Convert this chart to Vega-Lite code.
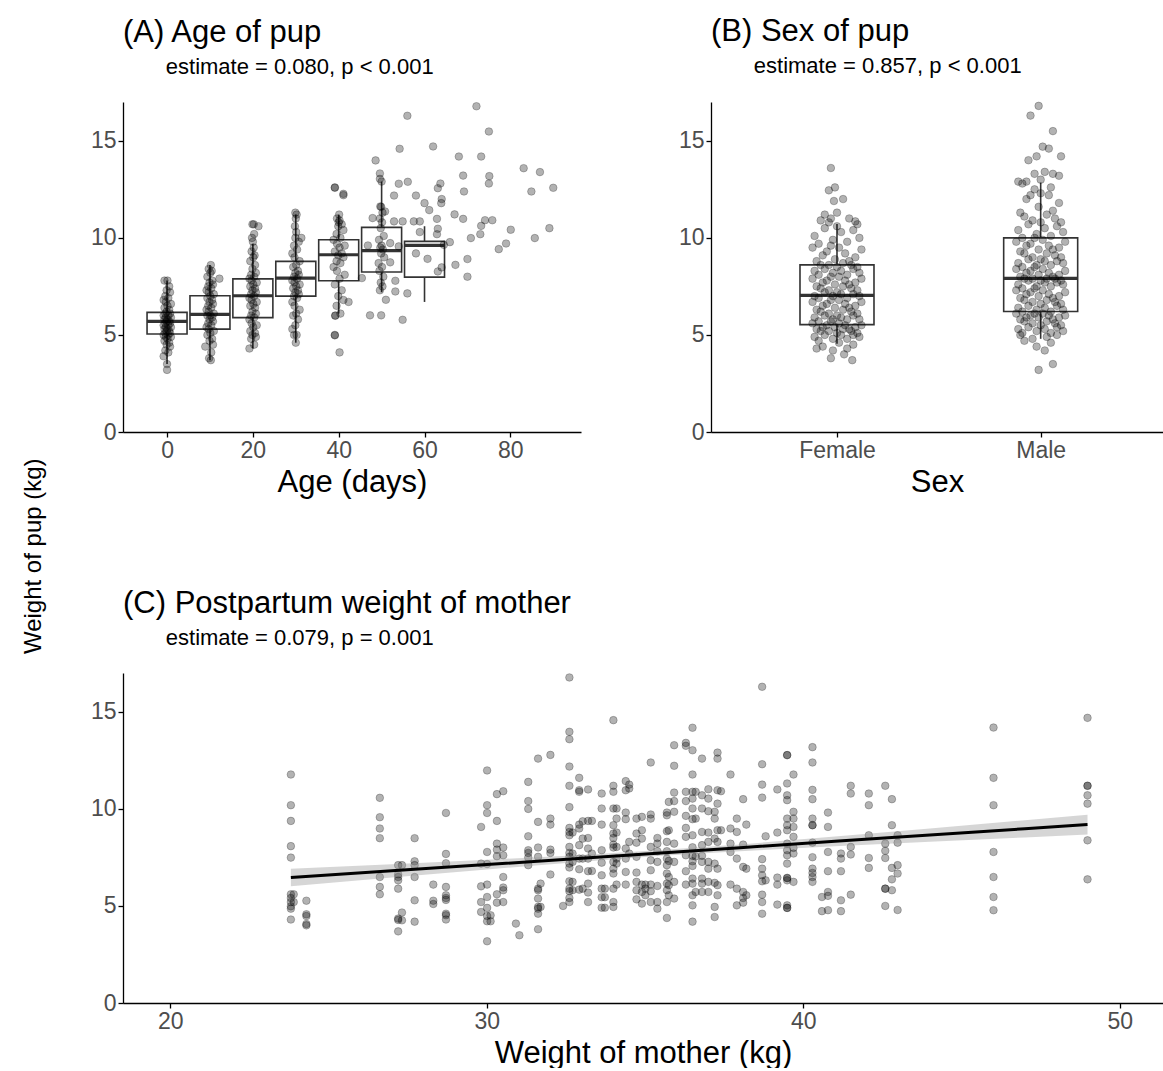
{
"$schema": "https://vega.github.io/schema/vega-lite/v6.json",
"background": "white",
"padding": {"left": 22, "top": 16, "right": 0, "bottom": 0},
"title": {"text": "Weight of pup (kg)", "orient": "left", "anchor": "middle", "frame": "bounds", "fontSize": 24, "offset": 44, "dx": -14},
"config": {
  "font": "Liberation Sans",
  "view": {"stroke": null},
  "axis": {"grid": false, "domainColor": "black", "domainWidth": 1.3, "tickColor": "black", "tickWidth": 1.3, "tickSize": 5, "labelColor": "#4d4d4d", "labelFontSize": 23, "labelPadding": 2, "titleColor": "black", "titleFontSize": 31, "titleFontWeight": "normal", "titlePadding": 5, "labelFlush": false, "labelOverlap": false},
  "title": {"anchor": "start", "frame": "group", "fontSize": 31, "fontWeight": "normal", "color": "black", "subtitleFontSize": 22, "subtitleColor": "black", "offset": 22, "subtitlePadding": 8}
},
"datasets": {
  "boxA": [
    {"a":0,"lo":3.5,"q1":5.05,"md":5.7,"q3":6.16,"hi":7.8},
    {"a":10,"lo":3.7,"q1":5.3,"md":6.06,"q3":7.02,"hi":8.6},
    {"a":20,"lo":4.3,"q1":5.89,"md":7.02,"q3":7.89,"hi":9.7},
    {"a":30,"lo":4.6,"q1":7.0,"md":7.93,"q3":8.79,"hi":11.2},
    {"a":40,"lo":6.1,"q1":7.79,"md":9.13,"q3":9.9,"hi":11.2},
    {"a":50,"lo":7.2,"q1":8.24,"md":9.34,"q3":10.54,"hi":12.9},
    {"a":60,"lo":6.7,"q1":7.98,"md":9.61,"q3":9.82,"hi":10.6}
  ],
  "ptsA": [
    {"a":0,"w":3.2},{"a":0,"w":3.5},{"a":-0.8,"w":3.9},{"a":0.3,"w":4.1},{"a":-0.4,"w":4.2},{"a":0.7,"w":4.4},{"a":-0.1,"w":4.5},{"a":0.5,"w":4.6},{"a":-0.6,"w":4.7},{"a":0.1,"w":4.8},
    {"a":0.9,"w":4.9},{"a":-0.3,"w":4.9},{"a":-0.8,"w":5.0},{"a":0.3,"w":5.0},{"a":-0.4,"w":5.1},{"a":0.7,"w":5.1},{"a":-0.1,"w":5.2},{"a":0.5,"w":5.2},{"a":-0.6,"w":5.3},{"a":0.1,"w":5.3},
    {"a":0.9,"w":5.4},{"a":-0.3,"w":5.4},{"a":-0.8,"w":5.5},{"a":0.3,"w":5.5},{"a":-0.4,"w":5.6},{"a":0.7,"w":5.6},{"a":-0.1,"w":5.7},{"a":0.5,"w":5.7},{"a":-0.6,"w":5.8},{"a":0.1,"w":5.8},
    {"a":0.9,"w":5.9},{"a":-0.3,"w":5.9},{"a":-0.8,"w":6.0},{"a":0.3,"w":6.0},{"a":-0.4,"w":6.1},{"a":0.7,"w":6.1},{"a":-0.1,"w":6.2},{"a":0.5,"w":6.3},{"a":-0.6,"w":6.4},{"a":0.1,"w":6.5},
    {"a":0.9,"w":6.6},{"a":-0.3,"w":6.7},{"a":-0.8,"w":6.8},{"a":0.3,"w":6.9},{"a":-0.4,"w":7.0},{"a":0.7,"w":7.2},{"a":-0.1,"w":7.3},{"a":0.5,"w":7.5},{"a":-0.6,"w":7.8},{"a":0.1,"w":7.8},
    {"a":10.2,"w":3.7},{"a":9.8,"w":3.8},{"a":10.3,"w":4.1},{"a":10.7,"w":4.5},{"a":9.9,"w":4.7},{"a":10.5,"w":4.8},{"a":9.4,"w":5.0},{"a":10.1,"w":5.1},{"a":10.9,"w":5.2},{"a":9.7,"w":5.3},
    {"a":9.2,"w":5.4},{"a":10.3,"w":5.5},{"a":9.6,"w":5.6},{"a":10.7,"w":5.7},{"a":9.9,"w":5.8},{"a":10.5,"w":5.9},{"a":9.4,"w":6.0},{"a":10.1,"w":6.0},{"a":10.9,"w":6.1},{"a":9.7,"w":6.2},
    {"a":9.2,"w":6.3},{"a":10.3,"w":6.4},{"a":9.6,"w":6.5},{"a":10.7,"w":6.6},{"a":9.9,"w":6.7},{"a":10.5,"w":6.8},{"a":9.4,"w":6.9},{"a":10.1,"w":7.0},{"a":10.9,"w":7.1},{"a":9.7,"w":7.2},
    {"a":9.2,"w":7.3},{"a":10.3,"w":7.4},{"a":9.6,"w":7.5},{"a":10.7,"w":7.6},{"a":9.9,"w":7.7},{"a":10.5,"w":7.8},{"a":9.4,"w":8.0},{"a":10.1,"w":8.2},{"a":10.4,"w":8.3},{"a":9.7,"w":8.4},
    {"a":10.2,"w":8.6},{"a":8.9,"w":4.4},{"a":12.2,"w":7.9},
    {"a":19.2,"w":4.3},{"a":20.3,"w":4.5},{"a":19.6,"w":4.8},{"a":20.7,"w":4.9},{"a":19.9,"w":5.0},{"a":20.5,"w":5.1},{"a":19.4,"w":5.2},{"a":20.1,"w":5.4},{"a":20.9,"w":5.5},{"a":19.7,"w":5.6},
    {"a":19.2,"w":5.8},{"a":20.3,"w":5.9},{"a":19.6,"w":6.0},{"a":20.7,"w":6.1},{"a":19.9,"w":6.2},{"a":20.5,"w":6.4},{"a":19.4,"w":6.5},{"a":20.1,"w":6.6},{"a":20.9,"w":6.7},{"a":19.7,"w":6.8},
    {"a":19.2,"w":6.9},{"a":20.3,"w":7.0},{"a":19.6,"w":7.1},{"a":20.7,"w":7.2},{"a":19.9,"w":7.3},{"a":20.5,"w":7.4},{"a":19.4,"w":7.5},{"a":20.1,"w":7.6},{"a":20.9,"w":7.7},{"a":19.7,"w":7.8},
    {"a":19.2,"w":7.9},{"a":20.3,"w":8.0},{"a":19.6,"w":8.1},{"a":20.7,"w":8.2},{"a":19.9,"w":8.4},{"a":20.5,"w":8.6},{"a":19.4,"w":8.8},{"a":20.1,"w":9.0},{"a":20.4,"w":9.1},{"a":19.7,"w":9.3},
    {"a":20.2,"w":9.5},{"a":20.0,"w":9.8},{"a":19.8,"w":10.0},{"a":20.3,"w":10.2},{"a":19.9,"w":10.7},{"a":20.2,"w":10.7},{"a":21.3,"w":10.6},
    {"a":30.0,"w":4.6},{"a":29.6,"w":5.0},{"a":30.2,"w":5.0},{"a":29.2,"w":5.3},{"a":29.9,"w":5.5},{"a":30.5,"w":5.8},{"a":29.4,"w":6.0},{"a":30.1,"w":6.1},{"a":30.9,"w":6.3},{"a":29.7,"w":6.5},
    {"a":29.2,"w":6.7},{"a":30.3,"w":6.9},{"a":29.6,"w":7.0},{"a":30.7,"w":7.1},{"a":29.9,"w":7.2},{"a":30.5,"w":7.3},{"a":29.4,"w":7.4},{"a":30.1,"w":7.5},{"a":30.9,"w":7.6},{"a":29.7,"w":7.7},
    {"a":29.2,"w":7.8},{"a":30.3,"w":7.9},{"a":29.6,"w":8.0},{"a":30.7,"w":8.1},{"a":29.9,"w":8.2},{"a":30.5,"w":8.3},{"a":29.4,"w":8.5},{"a":30.1,"w":8.6},{"a":30.9,"w":8.8},{"a":29.7,"w":9.0},
    {"a":29.2,"w":9.2},{"a":30.3,"w":9.4},{"a":29.6,"w":9.6},{"a":30.7,"w":9.8},{"a":29.9,"w":10.0},{"a":30.1,"w":10.3},{"a":29.8,"w":10.6},{"a":30.0,"w":11.0},{"a":30.2,"w":11.2},{"a":29.9,"w":11.3},
    {"a":31.3,"w":10.0},
    {"a":40.2,"w":4.1},{"a":39.1,"w":5.0},{"a":39.2,"w":6.0},{"a":40.4,"w":6.1},{"a":39.5,"w":6.5},{"a":41.1,"w":6.8},{"a":39.9,"w":7.0},{"a":40.7,"w":7.3},{"a":39.1,"w":7.6},{"a":40.2,"w":7.9},
    {"a":41.4,"w":8.1},{"a":39.6,"w":8.3},{"a":38.8,"w":8.5},{"a":40.4,"w":8.7},{"a":39.5,"w":8.8},{"a":41.1,"w":9.0},{"a":39.9,"w":9.1},{"a":40.7,"w":9.2},{"a":39.1,"w":9.3},{"a":40.2,"w":9.5},
    {"a":41.4,"w":9.6},{"a":39.6,"w":9.7},{"a":38.8,"w":9.9},{"a":40.4,"w":10.0},{"a":39.5,"w":10.2},{"a":41.1,"w":10.4},{"a":39.9,"w":10.6},{"a":40.7,"w":10.7},{"a":40.0,"w":10.8},{"a":40.2,"w":10.9},
    {"a":39.6,"w":11.0},{"a":40.1,"w":11.2},{"a":41.1,"w":12.2},{"a":39.1,"w":12.6},{"a":42.3,"w":6.7},
    {"a":49.6,"w":7.3},{"a":50.2,"w":7.5},{"a":49.8,"w":7.7},{"a":50.4,"w":8.0},{"a":49.5,"w":8.3},{"a":50.1,"w":8.5},{"a":49.3,"w":8.7},{"a":50.6,"w":9.0},{"a":49.9,"w":9.2},{"a":50.3,"w":9.4},
    {"a":49.7,"w":9.5},{"a":50.0,"w":9.6},{"a":49.4,"w":9.9},{"a":50.5,"w":10.1},{"a":49.8,"w":10.5},{"a":50.1,"w":10.8},{"a":49.6,"w":11.0},{"a":50.2,"w":11.3},{"a":49.9,"w":11.6},{"a":50.0,"w":12.9},
    {"a":56.0,"w":16.29},{"a":72.1,"w":16.78},{"a":75.0,"w":15.48},{"a":54.2,"w":14.59},{"a":62.0,"w":14.71},{"a":48.6,"w":13.99},{"a":68.0,"w":14.19},{"a":73.2,"w":14.19},{"a":49.6,"w":13.32},{"a":49.6,"w":13.04},
    {"a":69.0,"w":13.21},{"a":75.1,"w":13.18},{"a":83.1,"w":13.59},{"a":86.9,"w":13.39},{"a":75.0,"w":12.8},{"a":54.0,"w":12.79},{"a":56.1,"w":12.89},{"a":63.7,"w":12.8},{"a":63.1,"w":12.56},{"a":39.1,"w":12.58},
    {"a":41.1,"w":12.27},{"a":90.0,"w":12.58},{"a":84.9,"w":12.39},{"a":69.2,"w":12.39},{"a":52.9,"w":12.18},{"a":58.0,"w":12.18},{"a":60.0,"w":11.79},{"a":63.9,"w":11.79},{"a":64.0,"w":12.0},{"a":49.7,"w":11.62},
    {"a":50.8,"w":11.36},{"a":61.1,"w":11.43},{"a":67.0,"w":11.21},{"a":69.0,"w":10.98},{"a":62.9,"w":10.98},{"a":74.1,"w":10.91},{"a":75.8,"w":10.91},{"a":54.9,"w":10.85},{"a":57.5,"w":10.85},{"a":58.9,"w":10.85},
    {"a":47.9,"w":11.02},{"a":52.9,"w":10.85},{"a":73.2,"w":10.62},{"a":80.1,"w":10.42},{"a":89.1,"w":10.5},{"a":63.1,"w":10.47},{"a":73.0,"w":10.19},{"a":70.8,"w":9.99},{"a":85.7,"w":9.99},{"a":58.9,"w":10.3},
    {"a":62.9,"w":10.19},{"a":65.9,"w":9.78},{"a":79.0,"w":9.71},{"a":64.5,"w":9.64},{"a":77.3,"w":9.42},{"a":46.8,"w":9.61},{"a":52.0,"w":9.73},{"a":54.0,"w":9.56},{"a":58.0,"w":9.2},{"a":60.7,"w":8.92},
    {"a":70.0,"w":8.91},{"a":64.0,"w":8.48},{"a":67.2,"w":8.61},{"a":45.4,"w":7.93},{"a":63.1,"w":8.27},{"a":70.0,"w":8.0},{"a":52.0,"w":8.74},{"a":53.2,"w":7.79},{"a":53.2,"w":7.24},{"a":56.0,"w":7.14},
    {"a":51.0,"w":6.81},{"a":47.3,"w":6.01},{"a":49.9,"w":6.01},{"a":54.9,"w":5.78},{"a":39.1,"w":4.98},{"a":39.2,"w":5.99}
  ],
  "boxB": [
    {"s":1,"lo":4.55,"q1":5.53,"md":7.04,"q3":8.61,"hi":10.71},
    {"s":2,"lo":4.8,"q1":6.21,"md":7.91,"q3":10.0,"hi":12.85}
  ],
  "ptsB": [
    {"s":1.075,"w":3.7},{"s":0.97,"w":3.8},{"s":1.035,"w":4.0},{"s":0.98,"w":4.2},{"s":0.9,"w":4.3},{"s":1.05,"w":4.3},{"s":0.93,"w":4.4},{"s":1.08,"w":4.5},{"s":1.01,"w":4.6},
    {"s":0.91,"w":4.7},{"s":1.05,"w":4.8},{"s":0.98,"w":4.8},{"s":1.11,"w":4.9},{"s":0.89,"w":4.9},{"s":1.02,"w":5.0},{"s":1.08,"w":5.0},{"s":0.94,"w":5.0},{"s":1.0,"w":5.1},{"s":1.1,"w":5.1},
    {"s":0.96,"w":5.2},{"s":1.07,"w":5.2},{"s":0.92,"w":5.2},{"s":1.03,"w":5.3},{"s":0.9,"w":5.3},{"s":1.06,"w":5.3},{"s":0.99,"w":5.4},{"s":1.09,"w":5.4},{"s":0.93,"w":5.4},{"s":1.04,"w":5.5},
    {"s":0.95,"w":5.5},{"s":1.12,"w":5.5},{"s":0.88,"w":5.6},{"s":1.01,"w":5.6},{"s":0.97,"w":5.7},{"s":0.91,"w":5.7},{"s":1.05,"w":5.8},{"s":0.98,"w":5.8},{"s":1.11,"w":5.8},{"s":0.89,"w":5.9},
    {"s":1.02,"w":5.9},{"s":1.08,"w":6.0},{"s":0.94,"w":6.0},{"s":1.0,"w":6.0},{"s":1.1,"w":6.1},{"s":0.96,"w":6.1},{"s":1.07,"w":6.2},{"s":0.92,"w":6.2},{"s":1.03,"w":6.3},{"s":0.9,"w":6.3},
    {"s":1.06,"w":6.4},{"s":0.99,"w":6.4},{"s":1.09,"w":6.5},{"s":0.93,"w":6.5},{"s":1.04,"w":6.6},{"s":0.95,"w":6.6},{"s":1.12,"w":6.7},{"s":0.88,"w":6.7},{"s":1.01,"w":6.8},{"s":0.97,"w":6.8},
    {"s":0.91,"w":6.9},{"s":1.05,"w":6.9},{"s":0.98,"w":7.0},{"s":1.11,"w":7.0},{"s":0.89,"w":7.0},{"s":1.02,"w":7.1},{"s":1.08,"w":7.1},{"s":0.94,"w":7.2},{"s":1.0,"w":7.2},{"s":1.1,"w":7.3},
    {"s":0.96,"w":7.3},{"s":1.07,"w":7.4},{"s":0.92,"w":7.4},{"s":1.03,"w":7.5},{"s":0.9,"w":7.5},{"s":1.06,"w":7.6},{"s":0.99,"w":7.6},{"s":1.09,"w":7.7},{"s":0.93,"w":7.7},{"s":1.04,"w":7.8},
    {"s":0.95,"w":7.8},{"s":1.12,"w":7.9},{"s":0.88,"w":7.9},{"s":1.01,"w":8.0},{"s":0.97,"w":8.0},{"s":0.91,"w":8.1},{"s":1.05,"w":8.1},{"s":0.98,"w":8.2},{"s":1.11,"w":8.2},{"s":0.89,"w":8.3},
    {"s":1.02,"w":8.3},{"s":1.08,"w":8.4},{"s":0.94,"w":8.4},{"s":1.0,"w":8.5},{"s":1.1,"w":8.5},{"s":0.96,"w":8.6},{"s":1.07,"w":8.6},{"s":0.92,"w":8.6},{"s":1.03,"w":8.7},{"s":0.9,"w":8.8},
    {"s":1.06,"w":8.8},{"s":0.99,"w":8.9},{"s":1.09,"w":9.0},{"s":0.93,"w":9.1},{"s":1.04,"w":9.2},{"s":0.95,"w":9.3},{"s":1.12,"w":9.4},{"s":0.88,"w":9.5},{"s":1.01,"w":9.5},{"s":0.97,"w":9.6},
    {"s":0.91,"w":9.7},{"s":1.05,"w":9.8},{"s":0.98,"w":9.9},{"s":1.11,"w":10.0},{"s":0.89,"w":10.1},{"s":1.02,"w":10.3},{"s":1.08,"w":10.4},{"s":0.94,"w":10.5},{"s":1.0,"w":10.6},{"s":1.1,"w":10.7},
    {"s":0.96,"w":10.8},{"s":1.09,"w":10.85},{"s":0.92,"w":10.9},{"s":1.06,"w":11.0},{"s":0.97,"w":11.0},{"s":0.94,"w":11.2},{"s":1.0,"w":11.3},{"s":0.985,"w":11.9},{"s":1.03,"w":12.0},{"s":0.96,"w":12.45},
    {"s":0.99,"w":12.6},{"s":0.97,"w":13.6},
    {"s":1.99,"w":3.2},{"s":2.06,"w":3.5},{"s":2.02,"w":4.2},{"s":1.98,"w":4.4},{"s":2.05,"w":4.6},{"s":1.92,"w":4.7},{"s":1.96,"w":4.8},{"s":2.03,"w":4.9},{"s":1.9,"w":5.0},{"s":2.08,"w":5.0},
    {"s":1.91,"w":5.1},{"s":2.05,"w":5.1},{"s":1.98,"w":5.2},{"s":2.11,"w":5.2},{"s":1.89,"w":5.3},{"s":2.02,"w":5.3},{"s":2.08,"w":5.4},{"s":1.94,"w":5.4},{"s":2.0,"w":5.5},{"s":2.1,"w":5.5},
    {"s":1.96,"w":5.6},{"s":2.07,"w":5.6},{"s":1.92,"w":5.7},{"s":2.03,"w":5.7},{"s":1.9,"w":5.8},{"s":2.06,"w":5.8},{"s":1.99,"w":5.9},{"s":2.09,"w":5.9},{"s":1.93,"w":5.9},{"s":2.04,"w":6.0},
    {"s":1.95,"w":6.0},{"s":2.12,"w":6.0},{"s":1.88,"w":6.1},{"s":2.01,"w":6.1},{"s":1.97,"w":6.1},{"s":1.91,"w":6.2},{"s":2.05,"w":6.2},
    {"s":1.98,"w":6.3},{"s":2.11,"w":6.3},{"s":1.89,"w":6.4},{"s":2.02,"w":6.4},{"s":2.08,"w":6.5},{"s":1.94,"w":6.5},{"s":2.0,"w":6.6},{"s":2.1,"w":6.6},{"s":1.96,"w":6.7},{"s":2.07,"w":6.7},
    {"s":1.92,"w":6.8},{"s":2.03,"w":6.8},{"s":1.9,"w":6.9},{"s":2.06,"w":6.9},{"s":1.99,"w":7.0},{"s":2.09,"w":7.0},{"s":1.93,"w":7.1},{"s":2.04,"w":7.1},{"s":1.95,"w":7.2},{"s":2.12,"w":7.2},
    {"s":1.88,"w":7.3},{"s":2.01,"w":7.3},{"s":1.97,"w":7.4},{"s":1.91,"w":7.4},{"s":2.05,"w":7.5},{"s":1.98,"w":7.5},{"s":2.11,"w":7.6},{"s":1.89,"w":7.6},{"s":2.02,"w":7.7},{"s":2.08,"w":7.7},
    {"s":1.94,"w":7.8},{"s":2.0,"w":7.8},{"s":2.1,"w":7.8},{"s":1.96,"w":7.9},{"s":2.07,"w":7.9},{"s":1.92,"w":7.9},{"s":2.03,"w":7.9},
    {"s":1.9,"w":8.0},{"s":2.06,"w":8.0},{"s":1.99,"w":8.1},{"s":2.09,"w":8.1},{"s":1.93,"w":8.2},{"s":2.04,"w":8.2},{"s":1.95,"w":8.3},{"s":2.12,"w":8.3},{"s":1.88,"w":8.4},{"s":2.01,"w":8.4},
    {"s":1.97,"w":8.5},{"s":1.91,"w":8.5},{"s":2.05,"w":8.6},{"s":1.98,"w":8.6},{"s":2.11,"w":8.7},{"s":1.89,"w":8.7},{"s":2.02,"w":8.8},{"s":2.08,"w":8.8},{"s":1.94,"w":8.9},{"s":2.0,"w":8.9},
    {"s":2.1,"w":9.0},{"s":1.96,"w":9.0},{"s":2.07,"w":9.1},{"s":1.92,"w":9.2},{"s":2.03,"w":9.2},{"s":1.9,"w":9.3},{"s":2.06,"w":9.4},{"s":1.99,"w":9.4},{"s":2.09,"w":9.5},{"s":1.93,"w":9.6},
    {"s":2.04,"w":9.6},{"s":1.95,"w":9.7},{"s":2.12,"w":9.8},{"s":1.88,"w":9.8},{"s":2.01,"w":9.9},{"s":1.97,"w":10.0},{"s":1.91,"w":10.0},
    {"s":2.05,"w":10.1},{"s":1.98,"w":10.2},{"s":2.11,"w":10.3},{"s":1.89,"w":10.4},{"s":2.02,"w":10.5},{"s":2.08,"w":10.6},{"s":1.94,"w":10.7},{"s":2.0,"w":10.8},{"s":2.1,"w":10.8},{"s":1.96,"w":10.9},
    {"s":2.07,"w":11.0},{"s":1.92,"w":11.1},{"s":2.03,"w":11.2},{"s":1.9,"w":11.3},{"s":2.06,"w":11.4},{"s":1.99,"w":11.6},{"s":2.09,"w":11.8},{"s":1.93,"w":12.0},{"s":2.04,"w":12.2},{"s":1.95,"w":12.2},
    {"s":2.0,"w":12.3},{"s":1.97,"w":12.5},{"s":2.05,"w":12.6},{"s":1.91,"w":12.8},{"s":1.89,"w":12.9},{"s":1.93,"w":12.9},
    {"s":2.0,"w":13.0},{"s":2.09,"w":13.2},{"s":1.97,"w":13.3},{"s":2.06,"w":13.3},{"s":2.02,"w":13.4},{"s":1.94,"w":14.0},{"s":1.98,"w":14.2},{"s":2.1,"w":14.2},{"s":2.04,"w":14.6},{"s":2.01,"w":14.7},
    {"s":2.06,"w":15.5},{"s":1.95,"w":16.3},{"s":1.99,"w":16.8}
  ],
  "ptsC": [
    {"m":23.81,"w":11.77},{"m":23.81,"w":10.19},{"m":23.81,"w":9.38},{"m":23.81,"w":8.08},{"m":23.81,"w":7.49},{"m":23.81,"w":5.6},{"m":23.81,"w":5.41},{"m":23.81,"w":5.2},{"m":23.81,"w":4.98},{"m":23.81,"w":4.86},{"m":23.81,"w":4.3},
    {"m":23.9,"w":5.6},{"m":23.9,"w":5.2},
    {"m":24.3,"w":5.27},{"m":24.3,"w":4.57},{"m":24.3,"w":4.48},{"m":24.3,"w":4.0},{"m":24.3,"w":4.07},
    {"m":26.62,"w":10.57},{"m":26.62,"w":9.57},{"m":26.62,"w":8.99},{"m":26.62,"w":8.49},{"m":26.62,"w":6.49},{"m":26.62,"w":5.98},{"m":26.62,"w":5.6},
    {"m":27.2,"w":5.89},{"m":27.2,"w":6.49},{"m":27.2,"w":6.63},{"m":27.2,"w":6.32},{"m":27.2,"w":4.35},{"m":27.2,"w":4.28},{"m":27.2,"w":3.69},{"m":27.2,"w":7.1},
    {"m":27.32,"w":7.1},{"m":27.32,"w":4.66},{"m":27.32,"w":4.26},
    {"m":27.72,"w":8.49},{"m":27.72,"w":7.3},{"m":27.72,"w":7.1},{"m":27.72,"w":6.49},{"m":27.72,"w":5.29},{"m":27.72,"w":4.19},
    {"m":28.31,"w":6.1},{"m":28.31,"w":5.27},{"m":28.31,"w":5.1},
    {"m":28.71,"w":9.79},{"m":28.71,"w":7.68},{"m":28.71,"w":7.2},{"m":28.71,"w":5.98},{"m":28.71,"w":5.55},{"m":28.71,"w":5.41},{"m":28.71,"w":5.31},{"m":28.71,"w":4.52},{"m":28.71,"w":4.3},{"m":28.71,"w":4.6},
    {"m":29.82,"w":9.07},{"m":29.82,"w":7.18},{"m":29.82,"w":6.01},{"m":29.82,"w":5.2},{"m":29.82,"w":4.69},
    {"m":30.01,"w":11.98},{"m":30.01,"w":10.19},{"m":30.01,"w":9.79},{"m":30.01,"w":7.78},{"m":30.01,"w":7.16},{"m":30.01,"w":6.1},{"m":30.01,"w":5.46},{"m":30.01,"w":4.9},{"m":30.01,"w":4.48},{"m":30.01,"w":4.21},{"m":30.01,"w":3.18},
    {"m":30.12,"w":4.52},{"m":30.12,"w":4.21},
    {"m":30.32,"w":10.76},{"m":30.32,"w":9.38},{"m":30.32,"w":8.21},{"m":30.32,"w":7.9},{"m":30.32,"w":7.56},{"m":30.32,"w":5.6},{"m":30.32,"w":5.17},
    {"m":30.52,"w":10.91},{"m":30.52,"w":8.01},{"m":30.52,"w":7.61},{"m":30.52,"w":6.49},{"m":30.52,"w":5.95},{"m":30.52,"w":5.81},{"m":30.52,"w":5.2},
    {"m":30.92,"w":4.09},{"m":31.03,"w":3.49},
    {"m":31.31,"w":11.39},{"m":31.31,"w":10.4},{"m":31.31,"w":10.0},{"m":31.31,"w":8.59},{"m":31.31,"w":7.87},{"m":31.31,"w":7.73},{"m":31.31,"w":7.49},{"m":31.31,"w":7.1},
    {"m":31.62,"w":12.59},{"m":31.62,"w":9.33},{"m":31.62,"w":8.01},{"m":31.62,"w":7.53},{"m":31.62,"w":5.89},{"m":31.62,"w":5.81},{"m":31.62,"w":5.38},{"m":31.62,"w":4.95},{"m":31.62,"w":4.86},{"m":31.62,"w":4.6},{"m":31.62,"w":3.8},
    {"m":31.7,"w":6.15},{"m":31.7,"w":4.95},
    {"m":32.01,"w":12.78},{"m":32.01,"w":9.5},{"m":32.01,"w":9.19},{"m":32.01,"w":7.9},{"m":32.01,"w":7.73},{"m":32.01,"w":6.62},
    {"m":32.41,"w":5.0},
    {"m":32.61,"w":16.77},{"m":32.61,"w":13.97},{"m":32.61,"w":13.59},{"m":32.61,"w":12.18},{"m":32.61,"w":11.19},{"m":32.61,"w":10.09},{"m":32.61,"w":9.02},{"m":32.61,"w":8.81},{"m":32.61,"w":8.64},{"m":32.61,"w":8.04},
    {"m":32.61,"w":7.73},{"m":32.61,"w":7.53},{"m":32.61,"w":7.18},{"m":32.61,"w":6.98},{"m":32.61,"w":6.27},{"m":32.61,"w":5.89},{"m":32.61,"w":5.76},{"m":32.61,"w":5.41},{"m":32.61,"w":5.2},
    {"m":32.71,"w":8.78},{"m":32.71,"w":7.7},{"m":32.71,"w":7.27},{"m":32.71,"w":6.24},{"m":32.71,"w":5.81},
    {"m":32.92,"w":11.6},{"m":32.92,"w":10.96},{"m":32.92,"w":10.88},{"m":32.92,"w":9.19},{"m":32.92,"w":8.99},{"m":32.92,"w":8.13},{"m":32.92,"w":7.44},{"m":32.92,"w":6.89},{"m":32.92,"w":5.84},
    {"m":33.03,"w":9.36},{"m":33.03,"w":8.47},{"m":33.03,"w":7.44},{"m":33.03,"w":5.89},
    {"m":33.2,"w":11.0},{"m":33.2,"w":9.38},{"m":33.2,"w":8.5},{"m":33.2,"w":7.96},{"m":33.2,"w":7.44},{"m":33.2,"w":6.79},{"m":33.2,"w":6.15},{"m":33.2,"w":5.69},{"m":33.2,"w":5.2},
    {"m":33.32,"w":9.38},{"m":33.32,"w":7.7},{"m":33.32,"w":6.8},
    {"m":33.63,"w":10.79},{"m":33.63,"w":10.02},{"m":33.63,"w":9.19},{"m":33.63,"w":7.87},{"m":33.63,"w":7.23},{"m":33.63,"w":6.58},{"m":33.63,"w":5.89},{"m":33.63,"w":5.45},{"m":33.63,"w":4.91},
    {"m":33.73,"w":5.89},{"m":33.73,"w":5.45},{"m":33.73,"w":4.91},
    {"m":34.0,"w":14.57},{"m":34.0,"w":11.19},{"m":34.0,"w":10.88},{"m":34.0,"w":10.02},{"m":34.0,"w":9.16},{"m":34.0,"w":8.73},{"m":34.0,"w":8.5},{"m":34.0,"w":8.16},{"m":34.0,"w":8.01},{"m":34.0,"w":7.27},
    {"m":34.0,"w":6.92},{"m":34.0,"w":6.67},{"m":34.0,"w":5.89},{"m":34.0,"w":5.2},{"m":34.0,"w":4.95},
    {"m":34.1,"w":10.02},{"m":34.1,"w":9.5},{"m":34.1,"w":8.78},{"m":34.1,"w":8.04},{"m":34.1,"w":7.44},{"m":34.1,"w":7.18},{"m":34.1,"w":6.1},
    {"m":34.39,"w":11.43},{"m":34.39,"w":10.96},{"m":34.39,"w":9.81},{"m":34.39,"w":9.47},{"m":34.39,"w":7.96},{"m":34.39,"w":7.44},{"m":34.39,"w":6.75},{"m":34.39,"w":6.1},
    {"m":34.5,"w":11.25},{"m":34.5,"w":11.05},{"m":34.5,"w":8.3},{"m":34.5,"w":7.7},
    {"m":34.73,"w":9.5},{"m":34.73,"w":8.73},{"m":34.73,"w":8.26},{"m":34.73,"w":7.53},{"m":34.73,"w":6.72},{"m":34.73,"w":6.24},{"m":34.73,"w":5.81},{"m":34.73,"w":5.34},
    {"m":34.9,"w":9.59},{"m":34.9,"w":8.9},{"m":34.9,"w":8.47},{"m":34.9,"w":6.1},{"m":34.9,"w":5.72},{"m":34.9,"w":5.12},
    {"m":35.01,"w":6.1},{"m":35.01,"w":5.89},{"m":35.01,"w":5.55},
    {"m":35.18,"w":12.39},{"m":35.18,"w":9.71},{"m":35.18,"w":9.5},{"m":35.18,"w":8.04},{"m":35.18,"w":7.35},{"m":35.18,"w":6.84},{"m":35.18,"w":6.1},{"m":35.18,"w":5.76},{"m":35.18,"w":5.2},
    {"m":35.39,"w":8.5},{"m":35.39,"w":8.21},{"m":35.39,"w":7.82},{"m":35.39,"w":7.27},{"m":35.39,"w":6.03},{"m":35.39,"w":5.2},{"m":35.39,"w":4.86},
    {"m":35.69,"w":9.81},{"m":35.69,"w":9.67},{"m":35.69,"w":8.85},{"m":35.69,"w":8.3},{"m":35.69,"w":7.82},{"m":35.69,"w":7.44},{"m":35.69,"w":7.1},{"m":35.69,"w":6.67},{"m":35.69,"w":6.15},{"m":35.69,"w":5.81},{"m":35.69,"w":5.2},{"m":35.69,"w":4.38},
    {"m":35.75,"w":10.36},{"m":35.75,"w":8.9},{"m":35.75,"w":7.32},{"m":35.75,"w":6.49},{"m":35.75,"w":6.07},{"m":35.75,"w":5.55},
    {"m":35.92,"w":13.28},{"m":35.92,"w":12.22},{"m":35.92,"w":10.84},{"m":35.92,"w":10.4},{"m":35.92,"w":9.85},{"m":35.92,"w":8.21},{"m":35.92,"w":7.27},{"m":35.92,"w":6.24},{"m":35.92,"w":5.38},
    {"m":36.29,"w":13.4},{"m":36.29,"w":13.25},{"m":36.29,"w":10.88},{"m":36.29,"w":10.4},{"m":36.29,"w":9.64},{"m":36.29,"w":9.02},{"m":36.29,"w":8.56},{"m":36.29,"w":7.61},{"m":36.29,"w":6.79},{"m":36.29,"w":6.1},
    {"m":36.5,"w":14.18},{"m":36.5,"w":13.02},{"m":36.5,"w":11.77},{"m":36.5,"w":10.88},{"m":36.5,"w":10.53},{"m":36.5,"w":10.02},{"m":36.5,"w":9.47},{"m":36.5,"w":8.64},{"m":36.5,"w":8.02},
    {"m":36.5,"w":7.58},{"m":36.5,"w":7.3},{"m":36.5,"w":7.06},{"m":36.5,"w":6.41},{"m":36.5,"w":6.15},{"m":36.5,"w":5.55},{"m":36.5,"w":5.03},{"m":36.5,"w":4.19},
    {"m":36.6,"w":10.88},{"m":36.6,"w":9.5},{"m":36.6,"w":7.55},{"m":36.6,"w":5.72},
    {"m":36.8,"w":12.59},{"m":36.8,"w":10.7},{"m":36.8,"w":10.02},{"m":36.8,"w":8.81},{"m":36.8,"w":8.13},{"m":36.8,"w":7.58},{"m":36.8,"w":7.27},{"m":36.8,"w":6.41},{"m":36.8,"w":6.15},{"m":36.8,"w":5.72},
    {"m":37.0,"w":11.01},{"m":37.0,"w":10.53},{"m":37.0,"w":9.88},{"m":37.0,"w":8.78},{"m":37.0,"w":8.3},{"m":37.0,"w":7.27},{"m":37.0,"w":6.92},{"m":37.0,"w":6.24},{"m":37.0,"w":5.72},
    {"m":37.2,"w":9.85},{"m":37.2,"w":9.5},{"m":37.2,"w":8.47},{"m":37.2,"w":7.18},{"m":37.2,"w":6.19},{"m":37.2,"w":4.95},{"m":37.2,"w":4.43},
    {"m":37.29,"w":12.59},{"m":37.29,"w":12.9},{"m":37.29,"w":10.96},{"m":37.29,"w":10.27},{"m":37.29,"w":8.9},{"m":37.29,"w":8.3},{"m":37.29,"w":6.92},{"m":37.29,"w":6.07},{"m":37.29,"w":5.55},
    {"m":37.4,"w":10.91},{"m":37.4,"w":8.9},
    {"m":37.7,"w":11.77},{"m":37.7,"w":8.99},{"m":37.7,"w":8.21},{"m":37.7,"w":7.78},{"m":37.7,"w":6.1},
    {"m":37.9,"w":9.5},{"m":37.9,"w":8.81},{"m":37.9,"w":7.44},{"m":37.9,"w":5.89},{"m":37.9,"w":5.03},
    {"m":38.1,"w":10.5},{"m":38.1,"w":8.16},{"m":38.1,"w":7.01},{"m":38.1,"w":5.72},{"m":38.1,"w":5.41},{"m":38.1,"w":5.17},
    {"m":38.2,"w":9.19},{"m":38.2,"w":6.92},{"m":38.2,"w":5.55},
    {"m":38.7,"w":16.29},{"m":38.7,"w":12.3},{"m":38.7,"w":11.25},{"m":38.7,"w":10.58},{"m":38.7,"w":7.41},{"m":38.7,"w":6.92},{"m":38.7,"w":6.58},{"m":38.7,"w":6.27},{"m":38.7,"w":5.58},{"m":38.7,"w":5.2},{"m":38.7,"w":4.6},
    {"m":38.81,"w":8.59},{"m":38.81,"w":6.32},
    {"m":39.18,"w":11.0},{"m":39.18,"w":8.78},{"m":39.18,"w":6.46},{"m":39.18,"w":6.1},{"m":39.18,"w":5.07},
    {"m":39.49,"w":12.77},{"m":39.49,"w":11.31},{"m":39.49,"w":10.7},{"m":39.49,"w":10.45},{"m":39.49,"w":9.5},{"m":39.49,"w":9.16},{"m":39.49,"w":8.9},{"m":39.49,"w":8.21},{"m":39.49,"w":7.87},
    {"m":39.49,"w":7.61},{"m":39.49,"w":7.18},{"m":39.49,"w":6.44},{"m":39.49,"w":6.32},{"m":39.49,"w":5.03},{"m":39.49,"w":4.9},{"m":39.49,"w":12.77},{"m":39.49,"w":6.44},{"m":39.49,"w":4.9},
    {"m":39.69,"w":11.77},{"m":39.69,"w":9.85},{"m":39.69,"w":9.5},{"m":39.69,"w":9.07},{"m":39.69,"w":8.56},{"m":39.69,"w":7.99},{"m":39.69,"w":7.7},{"m":39.69,"w":6.24},
    {"m":40.29,"w":13.18},{"m":40.29,"w":12.39},{"m":40.29,"w":10.98},{"m":40.29,"w":10.5},{"m":40.29,"w":9.5},{"m":40.29,"w":9.16},{"m":40.29,"w":8.26},{"m":40.29,"w":7.51},{"m":40.29,"w":6.92},{"m":40.29,"w":6.7},{"m":40.29,"w":6.49},{"m":40.29,"w":6.24},{"m":40.29,"w":9.16},
    {"m":40.59,"w":5.46},{"m":40.59,"w":4.73},
    {"m":40.78,"w":9.81},{"m":40.78,"w":9.07},{"m":40.78,"w":7.78},{"m":40.78,"w":6.79},{"m":40.78,"w":5.72},{"m":40.78,"w":5.52},{"m":40.78,"w":4.78},
    {"m":41.19,"w":7.7},{"m":41.19,"w":7.44},{"m":41.19,"w":6.79},{"m":41.19,"w":5.29},{"m":41.19,"w":4.73},
    {"m":41.5,"w":11.19},{"m":41.5,"w":10.79},{"m":41.5,"w":8.04},{"m":41.5,"w":7.65},{"m":41.5,"w":5.58},
    {"m":42.07,"w":10.79},{"m":42.07,"w":10.19},{"m":42.07,"w":8.64},{"m":42.07,"w":7.47},{"m":42.07,"w":6.96},
    {"m":42.59,"w":11.19},{"m":42.59,"w":8.21},{"m":42.59,"w":7.84},{"m":42.59,"w":7.47},{"m":42.59,"w":5.89},{"m":42.59,"w":5.0},{"m":42.59,"w":5.89},
    {"m":42.8,"w":10.5},{"m":42.8,"w":9.16},{"m":42.8,"w":6.96},{"m":42.8,"w":6.37},{"m":42.8,"w":5.81},
    {"m":42.98,"w":8.64},{"m":42.98,"w":8.26},{"m":42.98,"w":7.1},{"m":42.98,"w":6.67},{"m":42.98,"w":4.79},
    {"m":46.01,"w":14.19},{"m":46.01,"w":11.6},{"m":46.01,"w":10.19},{"m":46.01,"w":7.78},{"m":46.01,"w":6.49},{"m":46.01,"w":5.46},{"m":46.01,"w":4.78},
    {"m":48.98,"w":14.69},{"m":48.98,"w":11.19},{"m":48.98,"w":11.19},{"m":48.98,"w":10.7},{"m":48.98,"w":10.27},{"m":48.98,"w":8.38},{"m":48.98,"w":6.37}
  ],
  "bandC": [
    {"m":23.81,"lo":6.01,"hi":6.91,"fit":6.46},
    {"m":27,"lo":6.46,"hi":7.15,"fit":6.81},
    {"m":30,"lo":6.88,"hi":7.38,"fit":7.13},
    {"m":33,"lo":7.28,"hi":7.63,"fit":7.46},
    {"m":35.5,"lo":7.58,"hi":7.88,"fit":7.73},
    {"m":38,"lo":7.82,"hi":8.17,"fit":8.0},
    {"m":41,"lo":8.07,"hi":8.58,"fit":8.33},
    {"m":44,"lo":8.31,"hi":8.99,"fit":8.65},
    {"m":47,"lo":8.53,"hi":9.42,"fit":8.98},
    {"m":48.98,"lo":8.68,"hi":9.7,"fit":9.19}
  ]
},
"bounds": "full",
"spacing": 91,
"vconcat": [
  {
    "bounds": "flush",
    "spacing": 130,
    "hconcat": [
      {
        "width": 458,
        "height": 330,
        "title": {"text": "(A) Age of pup", "subtitle": "\u200b\u00a0\u00a0\u00a0\u00a0\u00a0\u00a0\u00a0estimate = 0.080, p < 0.001"},
        "encoding": {
          "x": {"field": "a", "type": "quantitative", "title": "Age (days)", "scale": {"domain": [-9.1, 95.3], "nice": false, "zero": false}, "axis": {"values": [0, 20, 40, 60, 80]}}
        },
        "layer": [
          {"data": {"name": "boxA"}, "mark": {"type": "rule", "color": "#333333", "strokeWidth": 1.6},
           "encoding": {"y": {"field": "lo", "type": "quantitative", "title": null, "scale": {"domain": [0, 17], "nice": false}, "axis": {"values": [0, 5, 10, 15]}}, "y2": {"field": "hi"}}},
          {"data": {"name": "boxA"}, "mark": {"type": "bar", "width": 40, "fill": "white", "stroke": "#333333", "strokeWidth": 1.6},
           "encoding": {"y": {"field": "q1", "type": "quantitative", "title": null}, "y2": {"field": "q3"}}},
          {"data": {"name": "boxA"}, "mark": {"type": "tick", "orient": "horizontal", "size": 40, "thickness": 3.2, "color": "#333333", "opacity": 1},
           "encoding": {"y": {"field": "md", "type": "quantitative", "title": null}}},
          {"data": {"name": "ptsA"}, "mark": {"type": "circle", "size": 58, "fill": "black", "fillOpacity": 0.3, "stroke": "black", "strokeOpacity": 0.3, "strokeWidth": 0.8},
           "encoding": {"y": {"field": "w", "type": "quantitative", "title": null}}}
        ]
      },
      {
        "width": 452,
        "height": 330,
        "title": {"text": "(B) Sex of pup", "subtitle": "\u200b\u00a0\u00a0\u00a0\u00a0\u00a0\u00a0\u00a0estimate = 0.857, p < 0.001"},
        "encoding": {
          "x": {"field": "s", "type": "quantitative", "title": "Sex", "scale": {"domain": [0.406, 2.576], "nice": false, "zero": false}, "axis": {"values": [1, 2], "labelExpr": "datum.value == 1 ? 'Female' : 'Male'"}}
        },
        "layer": [
          {"data": {"name": "boxB"}, "mark": {"type": "rule", "color": "#333333", "strokeWidth": 1.6},
           "encoding": {"y": {"field": "lo", "type": "quantitative", "title": null, "scale": {"domain": [0, 17], "nice": false}, "axis": {"values": [0, 5, 10, 15]}}, "y2": {"field": "hi"}}},
          {"data": {"name": "boxB"}, "mark": {"type": "bar", "width": 74, "fill": "white", "stroke": "#333333", "strokeWidth": 1.6},
           "encoding": {"y": {"field": "q1", "type": "quantitative", "title": null}, "y2": {"field": "q3"}}},
          {"data": {"name": "boxB"}, "mark": {"type": "tick", "orient": "horizontal", "size": 74, "thickness": 3.2, "color": "#333333", "opacity": 1},
           "encoding": {"y": {"field": "md", "type": "quantitative", "title": null}}},
          {"data": {"name": "ptsB"}, "mark": {"type": "circle", "size": 58, "fill": "black", "fillOpacity": 0.3, "stroke": "black", "strokeOpacity": 0.3, "strokeWidth": 0.8},
           "encoding": {"y": {"field": "w", "type": "quantitative", "title": null}}}
        ]
      }
    ]
  },
  {
    "width": 1040,
    "height": 330,
    "title": {"text": "(C) Postpartum weight of mother", "subtitle": "\u200b\u00a0\u00a0\u00a0\u00a0\u00a0\u00a0\u00a0estimate = 0.079, p = 0.001"},
    "encoding": {
      "x": {"field": "m", "type": "quantitative", "title": "Weight of mother (kg)", "scale": {"domain": [18.506, 51.365], "nice": false, "zero": false}, "axis": {"values": [20, 30, 40, 50]}}
    },
    "layer": [
      {"data": {"name": "ptsC"}, "mark": {"type": "circle", "size": 58, "fill": "black", "fillOpacity": 0.3, "stroke": "black", "strokeOpacity": 0.3, "strokeWidth": 0.8},
       "encoding": {"y": {"field": "w", "type": "quantitative", "title": null, "scale": {"domain": [0, 17], "nice": false}, "axis": {"values": [0, 5, 10, 15]}}}},
      {"data": {"name": "bandC"}, "mark": {"type": "area", "fill": "#999999", "opacity": 0.4},
       "encoding": {"y": {"field": "lo", "type": "quantitative", "title": null}, "y2": {"field": "hi"}}},
      {"data": {"name": "bandC"}, "mark": {"type": "line", "color": "black", "strokeWidth": 3},
       "encoding": {"y": {"field": "fit", "type": "quantitative", "title": null}}}
    ]
  }
]
}
